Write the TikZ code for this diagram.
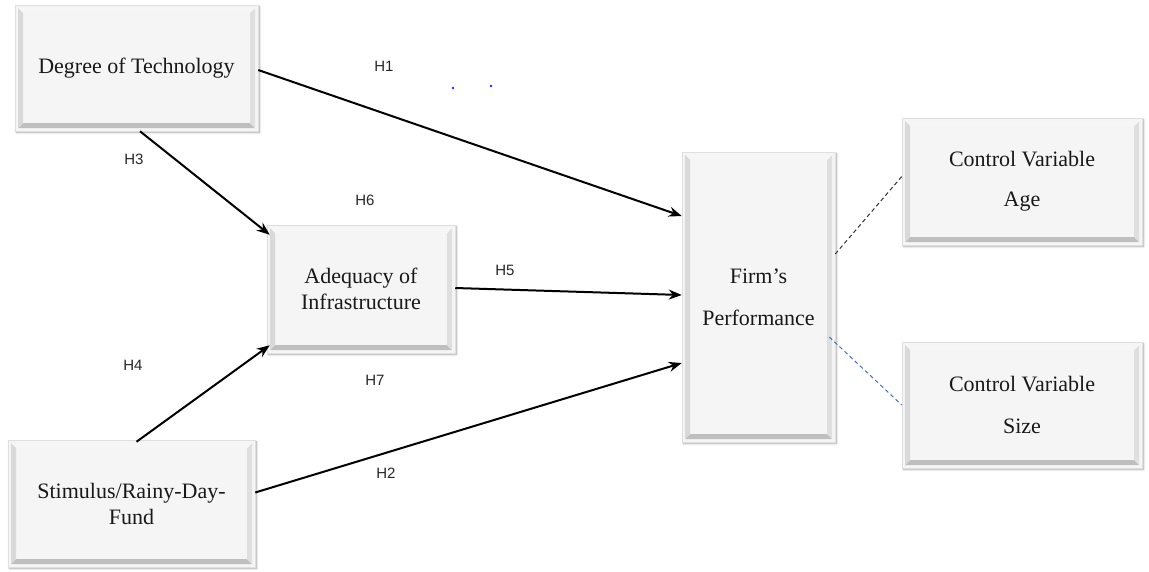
\documentclass[tikz,border=0pt]{standalone}
\usepackage{fontspec}
\setmainfont{Liberation Serif}
\newfontfamily\labfont{Liberation Sans}
\usetikzlibrary{arrows.meta,shadows.blur,calc}
\definecolor{boxfill}{HTML}{F5F5F5}
\definecolor{dashblue}{HTML}{4472C4}
\tikzset{
  bevbox/.style={draw=gray!25, line width=0.5pt, fill=boxfill, inner sep=0pt, align=center,
    font=\fontsize{22}{26}\selectfont, text=black!90,
    blur shadow={shadow xshift=1.5pt, shadow yshift=-1.5pt, shadow blur steps=6, shadow opacity=35},
    path picture={
      \coordinate (sw) at (path picture bounding box.south west);
      \coordinate (ne) at (path picture bounding box.north east);
      \coordinate (nw) at (path picture bounding box.north west);
      \coordinate (se) at (path picture bounding box.south east);
      \fill[gray!50] ($(sw)+(3,-3)$) -- ($(se)+(-3,-3)$) -- ($(se)+(-8,-8)$) -- ($(sw)+(8,-8)$) -- cycle;
      \fill[gray!25] ($(se)+(-3,-3)$) -- ($(ne)+(-3,3)$) -- ($(ne)+(-8,8)$) -- ($(se)+(-8,-8)$) -- cycle;
      \fill[gray!7] ($(nw)+(3,3)$) -- ($(ne)+(-3,3)$) -- ($(ne)+(-8,8)$) -- ($(nw)+(8,8)$) -- cycle;
      \fill[gray!30] ($(sw)+(3,-3)$) -- ($(nw)+(3,3)$) -- ($(nw)+(8,8)$) -- ($(sw)+(8,-8)$) -- cycle;
    }},
  arr/.style={line width=2pt, -{Stealth[length=13pt,width=10pt]}},
  hlab/.style={font=\labfont\fontsize{15}{15}\selectfont, text=black!85, inner sep=0pt},
  blkdash/.style={line width=1pt, dash pattern=on 4pt off 3pt, black!80},
  bludash/.style={line width=1pt, dash pattern=on 4pt off 3pt, dashblue}
}
\begin{document}
\begin{tikzpicture}[x=1pt,y=-1pt]
\useasboundingbox (0,0) rectangle (1149,571);
\node[bevbox, minimum width=243pt, minimum height=126pt] (dot) at (136.5,68) {Degree of Technology};
\node[bevbox, minimum width=188pt, minimum height=128pt] (ade) at (361,289) {Adequacy of\\Infrastructure};
\node[bevbox, minimum width=153pt, minimum height=290pt] (firm) at (758.5,297) {Firm’s\\[16pt]Performance};
\node[bevbox, minimum width=240pt, minimum height=127pt] (age) at (1022,181.5) {Control Variable\\[14pt]Age};
\node[bevbox, minimum width=240pt, minimum height=126pt] (size) at (1022,405) {Control Variable\\[16pt]Size};
\node[bevbox, minimum width=247pt, minimum height=127pt] (stim) at (131.5,503.5) {Stimulus/Rainy-Day-\\Fund};

\draw[arr] ([yshift=-2pt]dot.east) -- ([yshift=81pt]firm.west);
\draw[arr] ([xshift=3.5pt]dot.south) -- ([yshift=-10pt,xshift=3pt]ade.north west);
\draw[arr] ([yshift=1pt]ade.east) -- ([yshift=2pt]firm.west);
\draw[arr] ([yshift=-2pt,xshift=5pt]stim.north) -- ([yshift=8pt,xshift=3pt]ade.south west);
\draw[arr] ([yshift=11pt]stim.east) -- ([yshift=-66pt]firm.west);
\draw[blkdash] ([yshift=43pt]firm.east) -- ([yshift=5pt]age.west);
\draw[bludash] ([yshift=-40pt,xshift=-6pt]firm.east) -- (size.west);

\node[hlab] (h1) at (384,66) {H1};
\node[hlab] (h3) at (134,159) {H3};
\node[hlab] (h6) at (365,200) {H6};
\node[hlab] (h5) at (505,270) {H5};
\node[hlab] (h4) at (133,365) {H4};
\node[hlab] (h7) at (375,380) {H7};
\node[hlab] (h2) at (386,473) {H2};

\fill[blue!85] (453,88) circle (1.3pt);
\fill[blue!85] (491,86) circle (1.3pt);
\end{tikzpicture}
\end{document}
